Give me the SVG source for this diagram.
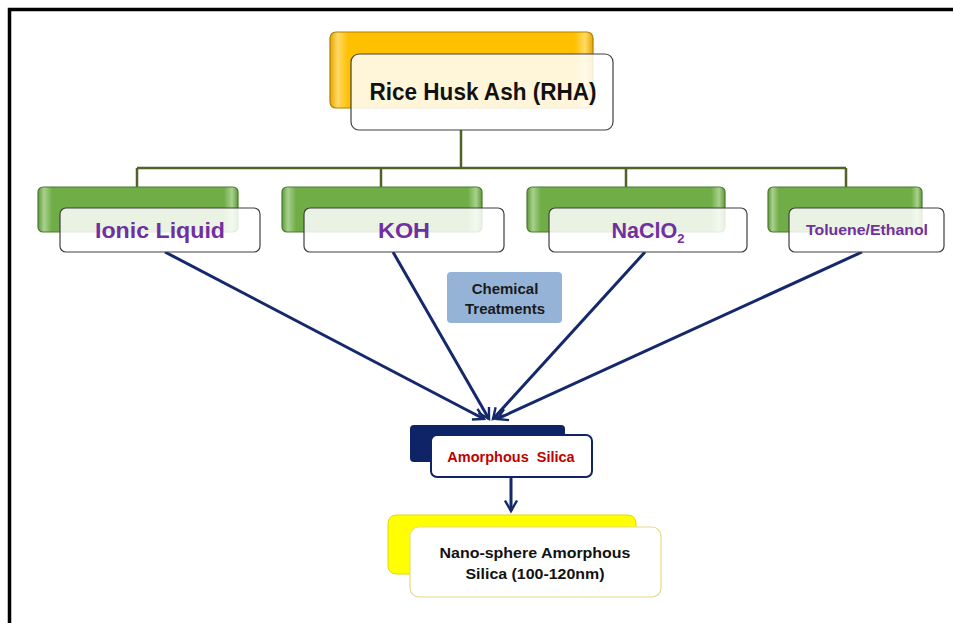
<svg xmlns="http://www.w3.org/2000/svg" width="953" height="623" viewBox="0 0 953 623">
  <defs>
    <linearGradient id="greenFill" x1="0" y1="0" x2="1" y2="0">
      <stop offset="0" stop-color="#5f9a3a"/>
      <stop offset="0.03" stop-color="#a9d18e"/>
      <stop offset="0.07" stop-color="#70ad47"/>
      <stop offset="0.93" stop-color="#70ad47"/>
      <stop offset="0.97" stop-color="#a9d18e"/>
      <stop offset="1" stop-color="#5f9a3a"/>
    </linearGradient>
    <linearGradient id="orangeFill" x1="0" y1="0" x2="1" y2="0">
      <stop offset="0" stop-color="#e6a800"/>
      <stop offset="0.03" stop-color="#ffd966"/>
      <stop offset="0.07" stop-color="#ffc000"/>
      <stop offset="0.93" stop-color="#ffc000"/>
      <stop offset="0.97" stop-color="#ffd966"/>
      <stop offset="1" stop-color="#e6a800"/>
    </linearGradient>
    <marker id="arrow" viewBox="0 0 10 10" refX="8" refY="5" markerWidth="5" markerHeight="5" orient="auto" markerUnits="strokeWidth">
      <path d="M1,1 L8,5 L1,9" fill="none" stroke="#14286b" stroke-width="1.6"/>
    </marker>
  </defs>
  <style>
    .frame { fill: none; stroke: #000; stroke-width: 3.5; }
    .back-green { fill: url(#greenFill); stroke: #4e7a2f; stroke-width: 1.2; }
    .back-orange { fill: url(#orangeFill); stroke: #b07f00; stroke-width: 1.2; }
    .front { fill: #ffffff; fill-opacity: 0.85; stroke: #404040; stroke-width: 1.2; }
    .tree { fill: none; stroke: #4f6228; stroke-width: 2.5; }
    .arrow { fill: none; stroke: #14286b; stroke-width: 3; marker-end: url(#arrow); }
    .label { font-family: "Liberation Sans", Arial, sans-serif; font-weight: bold; text-anchor: middle; }
    .purple { fill: #7030a0; }
  </style>

  <rect class="frame" x="9.5" y="9.5" width="960" height="640"/>

  <!-- tree connectors from the source node to the treatments -->
  <g id="connectors">
    <path class="tree" d="M461,130 V168 M137,168 H846 M137,168 V188 M381,168 V188 M626,168 V188 M846,168 V188"/>
    <line class="arrow" x1="165" y1="252" x2="484" y2="419"/>
    <line class="arrow" x1="393" y1="252" x2="489" y2="419"/>
    <line class="arrow" x1="645" y1="252" x2="493" y2="419"/>
    <line class="arrow" x1="862" y1="252" x2="497" y2="419"/>
    <line class="arrow" x1="511" y1="477" x2="511" y2="511"/>
  </g>

  <g id="rha">
    <rect class="back-orange" x="330" y="32" width="263" height="76" rx="6"/>
    <rect class="front" x="351" y="54" width="262" height="76" rx="8"/>
    <text class="label" x="483" y="100" font-size="23" fill="#111" textLength="227" lengthAdjust="spacingAndGlyphs">Rice Husk Ash (RHA)</text>
  </g>

  <g id="ionic-liquid">
    <rect class="back-green" x="38" y="187" width="200" height="45" rx="5"/>
    <rect class="front" x="60" y="208" width="200" height="44" rx="6"/>
    <text class="label purple" x="160" y="238" font-size="22" textLength="130" lengthAdjust="spacingAndGlyphs">Ionic Liquid</text>
  </g>

  <g id="koh">
    <rect class="back-green" x="282" y="187" width="200" height="45" rx="5"/>
    <rect class="front" x="304" y="208" width="200" height="44" rx="6"/>
    <text class="label purple" x="404" y="238" font-size="22" textLength="52" lengthAdjust="spacingAndGlyphs">KOH</text>
  </g>

  <g id="naclo2">
    <rect class="back-green" x="527" y="187" width="198" height="45" rx="5"/>
    <rect class="front" x="549" y="208" width="198" height="44" rx="6"/>
    <text class="label purple" x="648" y="238" font-size="21.5">NaClO<tspan font-size="13" dy="5">2</tspan></text>
  </g>

  <g id="toluene-ethanol">
    <rect class="back-green" x="768" y="187" width="154" height="45" rx="5"/>
    <rect class="front" x="789" y="208" width="155" height="44" rx="6"/>
    <text class="label purple" x="867" y="235" font-size="14" textLength="122" lengthAdjust="spacingAndGlyphs">Toluene/Ethanol</text>
  </g>

  <g id="chemical-treatments">
    <rect x="447" y="272" width="115" height="51" rx="4" fill="#95b3d7"/>
    <text class="label" x="505" y="294" font-size="15" fill="#1a1a1a">Chemical</text>
    <text class="label" x="505" y="314" font-size="15" fill="#1a1a1a">Treatments</text>
  </g>

  <g id="amorphous-silica">
    <rect x="410" y="425" width="155" height="37" rx="4" fill="#0f2466"/>
    <rect x="431" y="435" width="161" height="42" rx="6" fill="#fff" stroke="#0f2466" stroke-width="2"/>
    <text class="label" x="511" y="462" font-size="14.5" fill="#c00000" xml:space="preserve">Amorphous  Silica</text>
  </g>

  <g id="nano-silica">
    <rect x="388" y="515" width="248" height="59" rx="8" fill="#ffff00" stroke="#e6d800" stroke-width="1"/>
    <rect x="410" y="527" width="251" height="70" rx="9" fill="#fff" stroke="#e8d98a" stroke-width="1.2"/>
    <text class="label" x="535" y="558" font-size="15.5" fill="#111" textLength="191" lengthAdjust="spacingAndGlyphs">Nano-sphere Amorphous</text>
    <text class="label" x="535" y="579" font-size="15.5" fill="#111" textLength="139" lengthAdjust="spacingAndGlyphs">Silica (100-120nm)</text>
  </g>
</svg>
